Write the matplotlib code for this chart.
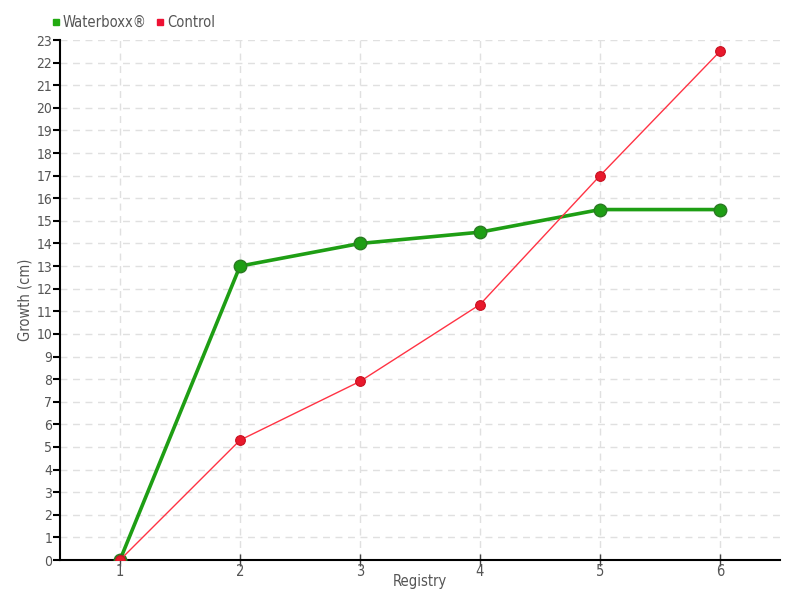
import matplotlib
matplotlib.use("Agg")
import matplotlib.pyplot as plt
from matplotlib.lines import Line2D

registry = [1, 2, 3, 4, 5, 6]
waterboxx = [0, 13, 14, 14.5, 15.5, 15.5]
control = [0, 5.3, 7.9, 11.3, 17, 22.5]
yticks = list(range(0, 24))

plt.rcParams['font.family'] = ['DejaVu Sans']
plt.rcParams['font.stretch'] = 'condensed'

txt = '#555555'
green = '#1e9e14'
green_edge = '#2a7a22'
red = '#e8192c'

fig = plt.figure(figsize=(8, 6), dpi=100)
ax = fig.add_axes([60/800, 40/600, 720/800, 520/600])

ax.plot(registry, waterboxx, color=green, lw=2.6, marker='o', ms=9,
        mfc=green, mec=green_edge, mew=1, zorder=3)
ax.plot(registry, control, color='#ff3344', lw=1, marker='o', ms=7,
        mfc=red, mec='#c81020', mew=0.8, zorder=4)

ax.set_xlim(0.5, 6.5)
ax.set_ylim(0, 23)
ax.set_xticks(registry)
ax.set_yticks(yticks)
ax.grid(True, color='#e0e0e0', linestyle=(0, (5, 4)), lw=1)
ax.set_axisbelow(True)
for s in ['top', 'right']:
    ax.spines[s].set_visible(False)
for s in ['left', 'bottom']:
    ax.spines[s].set_color('black')
    ax.spines[s].set_linewidth(1.5)
ax.tick_params(axis='y', direction='out', length=5, width=1.5, colors='black',
               labelcolor=txt, labelsize=10, pad=0.5)
ax.tick_params(axis='x', direction='inout', length=8, width=1, colors='#444444',
               labelcolor=txt, labelsize=10.5, pad=-1)
ax.set_xlabel('Registry', color=txt, fontsize=10.5, labelpad=-4)
ax.set_ylabel('Growth (cm)', color=txt, fontsize=10.5)
ax.yaxis.set_label_coords(-0.038, 0.5)

handles = [Line2D([], [], ls='none', marker='s', ms=5, color='#22aa11'),
           Line2D([], [], ls='none', marker='s', ms=5, color='#ee1133')]
fig.legend(handles, ['Waterboxx®', 'Control'], loc='upper left',
           bbox_to_anchor=(44/800, 1 - 8/600), ncol=2, frameon=False,
           handlelength=0.6, handletextpad=0.2, columnspacing=0.6,
           fontsize=10.5, labelcolor=txt, borderpad=0)

fig.savefig('out.png', dpi=100)
